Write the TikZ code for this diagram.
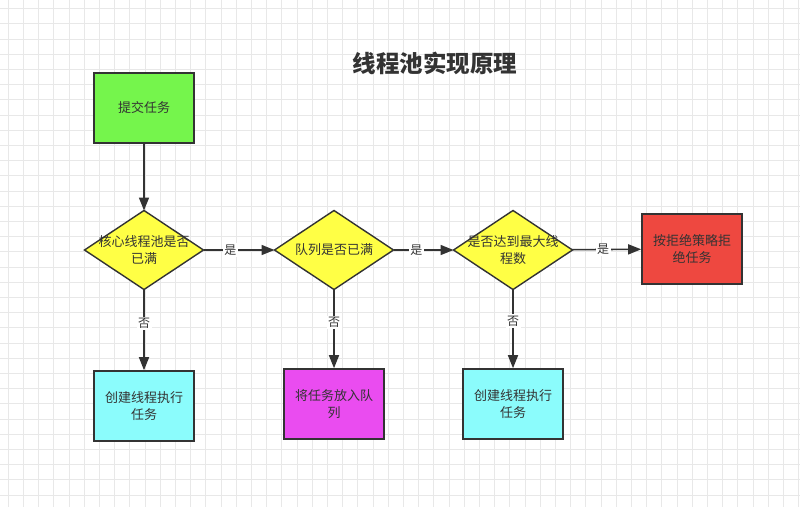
\documentclass[tikz,border=0pt]{standalone}
\usepackage{fontspec}
\setmainfont{Noto Sans CJK SC}
\usetikzlibrary{arrows.meta,shapes.geometric}
\definecolor{edge}{HTML}{333333}
\definecolor{cgreen}{HTML}{75F54C}
\definecolor{cyellow}{HTML}{FFFF45}
\definecolor{cred}{HTML}{EE4840}
\definecolor{ccyan}{HTML}{8BFCFC}
\definecolor{cmag}{HTML}{EA4CF0}
\definecolor{gridc}{HTML}{E8E8E8}
\tikzset{
  box/.style={draw=edge, line width=1.6pt, minimum width=100pt, minimum height=70pt, inner sep=0pt, align=center, font=\fontsize{13}{17}\selectfont, text=edge},
  decision/.style={draw=edge, line width=1.4pt, diamond, minimum width=119pt, minimum height=79pt, inner sep=0pt, outer sep=0pt},
  dtext/.style={align=center, font=\fontsize{13}{16.5}\selectfont, text=edge, inner sep=0pt},
  flow/.style={draw=edge, line width=1.6pt, -{Triangle[length=13pt,width=10pt]}},
  lbl/.style={fill=white, inner sep=1.5pt, font=\fontsize{12}{13}\selectfont, text=edge}
}
\begin{document}
\begin{tikzpicture}[x=1pt,y=-1pt]
\useasboundingbox (0,0) rectangle (800,507);
\fill[white] (0,0) rectangle (800,507);
\foreach \i in {0,...,52} {
  \draw[gridc, line width=0.7pt] ({8.2+15.2*\i},0) -- ({8.2+15.2*\i},507);
}
\foreach \j in {0,...,33} {
  \draw[gridc, line width=0.7pt] (0,{8.5+15.2*\j}) -- (800,{8.5+15.2*\j});
}
\node[font=\bfseries\fontsize{23.5}{26}\selectfont, text=edge] (title) at (435,63) {线程池实现原理};

\node[box, fill=cgreen] (submit) at (144,108) {提交任务};
\node[decision, fill=cyellow] (d1) at (144,250) {};
\node[dtext] (t1) at (144,250) {核心线程池是否\\已满};
\node[decision, fill=cyellow] (d2) at (334,250) {};
\node[dtext] (t2) at (334,250) {队列是否已满};
\node[decision, fill=cyellow] (d3) at (513,250) {};
\node[dtext] (t3) at (513,250) {是否达到最大线\\程数};
\node[box, fill=cred] (reject) at (692,249) {按拒绝策略拒\\绝任务};
\node[box, fill=ccyan] (c1) at (144,406) {创建线程执行\\任务};
\node[box, fill=cmag] (q) at (334,404) {将任务放入队\\列};
\node[box, fill=ccyan] (c2) at (513,404) {创建线程执行\\任务};

\draw[flow] (submit) -- (d1);
\draw[flow] (d1) -- node[lbl, pos=0.38] {是} (d2);
\draw[flow] (d2) -- node[lbl, pos=0.38] {是} (d3);
\draw[flow] (d3) -- node[lbl, pos=0.45] {是} (reject);
\draw[flow] (d1) -- node[lbl, pos=0.42] {否} (c1);
\draw[flow] (d2) -- node[lbl, pos=0.42] {否} (q);
\draw[flow] (d3) -- node[lbl, pos=0.4] {否} (c2);
\end{tikzpicture}
\end{document}
